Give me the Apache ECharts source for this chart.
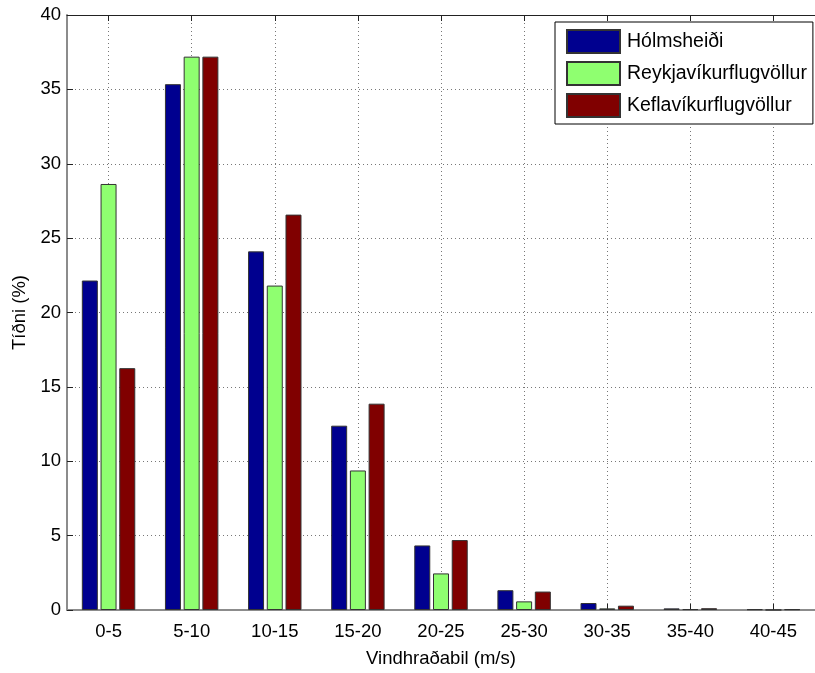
<!DOCTYPE html>
<html>
<head>
<meta charset="utf-8">
<script src="https://cdn.jsdelivr.net/npm/echarts@6/dist/echarts.min.js"></script>
<style>
html,body{margin:0;padding:0;background:#fff;}
#chart{width:815px;height:673px;}
</style>
</head>
<body>
<div id="chart"></div>
<script>
var categories = ['0-5','5-10','10-15','15-20','20-25','25-30','30-35','35-40','40-45'];
var holmsheidi = [22.15, 35.35, 24.11, 12.39, 4.34, 1.33, 0.47, 0.11, 0.05];
var reykjavik  = [28.64, 37.20, 21.81, 9.38, 2.46, 0.58, 0.11, 0.06, 0.01];
var keflavik   = [16.26, 37.20, 26.58, 13.87, 4.70, 1.24, 0.29, 0.12, 0.05];
var seriesNames = ['Hólmsheiði','Reykjavíkurflugvöllur','Keflavíkurflugvöllur'];
var yTicks = {min:0, max:40, interval:5};

var FONT = '"Liberation Sans", Arial, sans-serif';
var halfSlots = [];
for (var i = 0; i < categories.length * 2 + 1; i++) halfSlots.push('');
function odd(i){ return i % 2 === 1; }

var chart = echarts.init(document.getElementById('chart'), null, {renderer:'canvas'});
var gridLine = {show:true, lineStyle:{color:'#777', type:[1,3], width:1}};
function bar(name, data, color){
  return {
    name:name, type:'bar', data:data, xAxisIndex:0, yAxisIndex:0,
    barWidth:16, barGap:'17%',
    itemStyle:{color:color, borderColor:'#333', borderWidth:1},
    emphasis:{disabled:true}
  };
}
chart.setOption({
  animation:false,
  backgroundColor:'#fff',
  textStyle:{fontFamily:FONT},
  grid:{left:67, top:15, width:756, height:598, containLabel:false},
  legend:{
    orient:'vertical', left:555, top:22,
    padding:[7,6,6,11], itemGap:7,
    itemWidth:53, itemHeight:23, icon:'rect',
    borderColor:'#000', borderWidth:1, backgroundColor:'#fff',
    textStyle:{fontFamily:FONT, fontSize:19.5, lineHeight:22, color:'#000', padding:[0,0,0,2]},
    data:seriesNames
  },
  xAxis:[{
    type:'category', data:categories, boundaryGap:true, position:'bottom',
    axisLine:{lineStyle:{color:'#8c8c8c', width:2}},
    axisTick:{show:true, alignWithLabel:true, inside:true, length:6, lineStyle:{color:'#222'}},
    axisLabel:{fontFamily:FONT, fontSize:18.5, color:'#000', margin:12},
    splitLine:{show:false},
    name:'Vindhraðabil (m/s)', nameLocation:'middle', nameGap:39,
    nameTextStyle:{fontFamily:FONT, fontSize:18.5, color:'#000'}
  },{
    type:'category', data:halfSlots, boundaryGap:false, position:'top',
    axisLine:{lineStyle:{color:'#222', width:1}},
    axisTick:{show:true, inside:true, length:6, interval:function(i){return odd(i);}, lineStyle:{color:'#222'}},
    axisLabel:{show:false},
    splitLine:{show:true, interval:function(i){return odd(i);}, lineStyle:{color:'#777', type:[1,3], width:1}}
  }],
  yAxis:[{
    type:'value', min:yTicks.min, max:yTicks.max, interval:yTicks.interval,
    axisLine:{show:true, lineStyle:{color:'#8c8c8c', width:2}},
    axisTick:{show:true, inside:true, length:6, lineStyle:{color:'#222'}},
    axisLabel:{fontFamily:FONT, fontSize:18.5, color:'#000', margin:6},
    splitLine:gridLine,
    name:'Tíðni (%)', nameLocation:'middle', nameGap:30, nameRotate:90,
    nameTextStyle:{fontFamily:FONT, fontSize:18.5, color:'#000'}
  }],
  series:[
    bar(seriesNames[0], holmsheidi, '#00008F'),
    bar(seriesNames[1], reykjavik, '#8FFF70'),
    bar(seriesNames[2], keflavik, '#800000')
  ]
});
</script>
</body>
</html>
